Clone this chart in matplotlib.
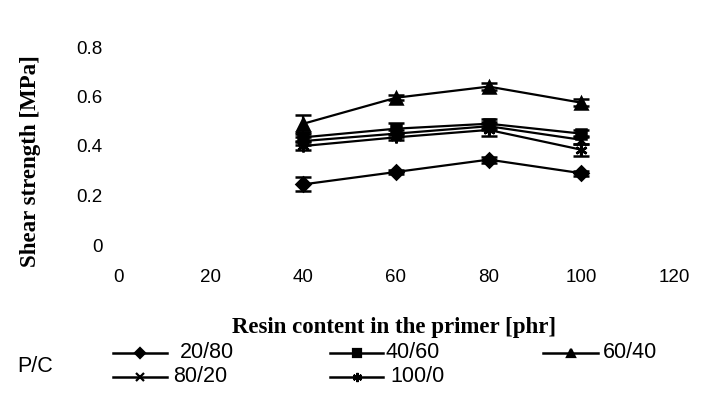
import matplotlib
matplotlib.use("Agg")
import matplotlib.pyplot as plt
from matplotlib.lines import Line2D

# Resin content in the primer [phr]
resin = [40, 60, 80, 100]

# Shear strength [MPa] for each P/C ratio
s_20_80 = [0.245, 0.295, 0.345, 0.290]
s_40_60 = [0.435, 0.470, 0.490, 0.450]
s_60_40 = [0.490, 0.595, 0.640, 0.575]
s_80_20 = [0.420, 0.450, 0.480, 0.425]
s_100_0 = [0.400, 0.435, 0.465, 0.385]

# Standard deviations
e_20_80 = [0.028, 0.010, 0.012, 0.010]
e_40_60 = [0.015, 0.022, 0.018, 0.015]
e_60_40 = [0.035, 0.010, 0.015, 0.015]
e_80_20 = [0.015, 0.015, 0.015, 0.015]
e_100_0 = [0.015, 0.012, 0.025, 0.025]

labels = ["20/80", "40/60", "60/40", "80/20", "100/0"]
xticks = [0, 20, 40, 60, 80, 100, 120]
yticks = [0, 0.2, 0.4, 0.6, 0.8]
ytick_labels = ["0", "0.2", "0.4", "0.6", "0.8"]

series = [s_20_80, s_40_60, s_60_40, s_80_20, s_100_0]
errors = [e_20_80, e_40_60, e_60_40, e_80_20, e_100_0]
markers = ["D", "s", "^", "x", (6, 2, 0)]
msizes = [7, 7.5, 8, 7, 8.5]

W, H = 702, 396
fig = plt.figure(figsize=(W / 100, H / 100), dpi=100)
ax = fig.add_axes([118 / W, 1 - 245 / H, (674 - 118) / W, (245 - 47) / H])

for vals, errs, mk, ms in zip(series, errors, markers, msizes):
    ax.errorbar(resin, vals, yerr=errs, color="black", lw=1.6,
                marker=mk, ms=ms, mew=1.8, capsize=6, capthick=2,
                elinewidth=1.6, zorder=3)

ax.set_xlim(0, 120)
ax.set_ylim(0, 0.8)
ax.set_xticks(xticks)
ax.set_yticks(yticks)
ax.set_yticklabels(ytick_labels)
for s in ax.spines.values():
    s.set_visible(False)
ax.tick_params(length=0, labelsize=13.5)
ax.tick_params(axis="x", pad=17)
ax.tick_params(axis="y", pad=11)
for t in ax.get_xticklabels() + ax.get_yticklabels():
    t.set_fontfamily("Liberation Sans")

fig.text(394 / W, 1 - 327 / H, "Resin content in the primer [phr]",
         fontfamily="Liberation Serif", fontweight="bold", fontsize=16.5,
         ha="center", va="center")
fig.text(31 / W, 1 - 161 / H, "Shear strength [MPa]",
         fontfamily="Liberation Serif", fontweight="bold", fontsize=16.5,
         rotation=90, ha="center", va="center")

# Legend
fig.text(17 / W, 1 - 366 / H, "P/C", fontfamily="Liberation Sans",
         fontsize=15.5, va="center", ha="left")

legend_slots = [
    (0, 113, 167, 353, 180),
    (3, 113, 167, 377, 173),
    (1, 330, 383, 353, 386),
    (4, 330, 383, 377, 390),
    (2, 543, 598, 353, 603),
]
for idx, x0, x1, y, xt in legend_slots:
    yf = 1 - y / H
    fig.add_artist(Line2D([x0 / W, x1 / W], [yf, yf], transform=fig.transFigure,
                          color="black", lw=1.8))
    fig.add_artist(Line2D([(x0 + x1) / 2 / W], [yf], transform=fig.transFigure,
                          color="black", lw=0, marker=markers[idx],
                          ms=msizes[idx] * 0.78, mew=1.6))
    fig.text(xt / W, yf, labels[idx], fontfamily="Liberation Sans",
             fontsize=15.5, va="center", ha="left")

fig.savefig("out.png", dpi=100)
